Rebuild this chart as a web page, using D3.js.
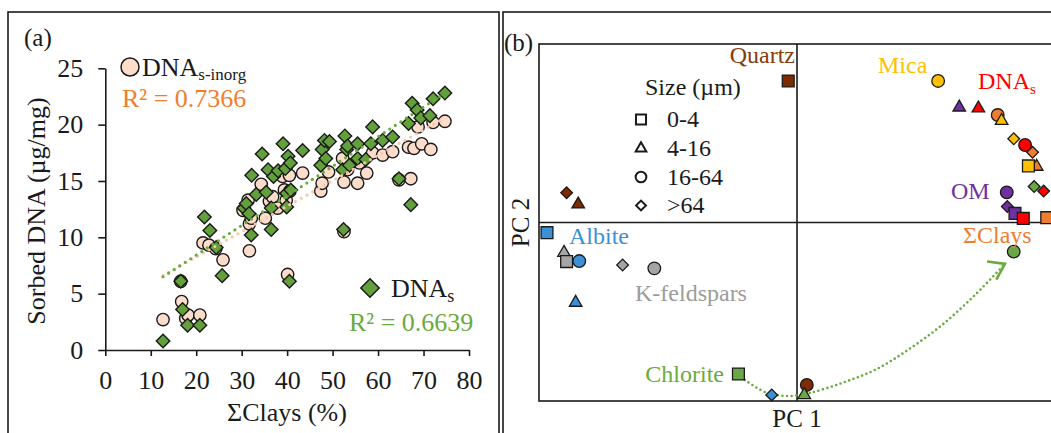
<!DOCTYPE html>
<html><head><meta charset="utf-8">
<script src="https://cdn.jsdelivr.net/npm/d3@7"></script>
<style>
html,body{margin:0;padding:0;background:#fff;}
svg{display:block;font-family:"Liberation Serif","Times New Roman",serif;}
</style></head><body>
<svg id="fig" width="1051" height="433"></svg>
<script>
// ---------- Panel (a): sorbed DNA against total clay content ----------
const clayInorg = [12.7,16.6,16.8,17.7,18.2,20.8,21.5,22.8,24.3,25.9,30.3,31.4,31.7,31.7,32.1,34.3,35.2,36.1,36.8,37.9,
  39.0,39.4,39.8,40.1,40.5,40.6,43.4,47.4,47.7,49.1,52.2,52.5,52.5,53.3,55.5,55.9,57.5,58.8,61.0,63.2,
  64.6,66.7,67.2,67.9,68.8,69.6,71.6,72.1,74.7];
const dnaInorg = [2.7,6.1,4.3,2.8,3.1,3.1,9.5,9.3,9.0,8.0,12.4,13.3,8.8,11.2,11.7,14.7,11.7,13.2,13.6,12.6,
  15.4,14.2,13.3,6.7,15.5,14.1,15.7,14.1,14.8,15.8,17.0,14.9,10.5,16.0,14.8,16.6,15.7,17.5,17.3,17.6,
  15.1,18.0,15.2,17.9,19.8,18.3,17.8,20.2,20.3];
const clayS = [12.7,16.6,17.0,18.1,20.8,21.8,23.0,24.4,25.7,30.5,31.0,31.6,32.1,32.2,33.2,34.5,35.4,35.8,36.5,36.5,
  37.0,38.0,39.1,39.6,39.9,39.9,40.2,40.5,40.7,40.8,43.4,47.4,47.7,48.2,48.5,49.3,52.2,52.4,52.7,53.1,
  53.3,53.7,55.5,55.5,57.3,58.4,58.8,61.0,63.2,64.6,66.7,67.2,67.5,68.6,69.4,71.4,72.1,74.7];
const dnaS = [0.8,6.1,3.6,2.2,2.2,11.8,10.6,9.1,6.6,12.6,13.0,12.1,10.2,15.5,13.8,17.4,14.0,16.0,12.6,10.7,
  15.4,15.9,18.3,16.1,12.7,13.9,17.2,6.1,16.6,14.2,17.7,16.4,17.8,18.6,17.0,18.5,16.0,10.7,19.0,17.8,
  18.1,16.4,18.3,17.0,16.9,18.3,19.8,18.6,18.9,15.2,20.1,12.9,21.9,21.3,20.6,20.8,22.3,22.8];
// linear trend lines (end points) and their fit statistics
const trendInorgX = [12.7, 74.7], trendInorgY = [6.6, 20.6];
const trendSX = [12.7, 74.7], trendSY = [6.5, 22.8];
const r2Inorg = "0.7366", r2S = "0.6639";
const xTicksA = [0,10,20,30,40,50,60,70,80];
const yTicksA = [0,5,10,15,20,25];

// ---------- Panel (b): PCA of minerals by size fraction ----------
const pcaGroup = ["Quartz","Quartz","Quartz","Quartz",
  "K-feldspars","K-feldspars","K-feldspars","K-feldspars",
  "Albite","Albite","Albite","Albite",
  "ΣClays","ΣClays","ΣClays","ΣClays",
  "OM","OM","OM","OM",
  "Chlorite","Chlorite","Chlorite","Chlorite",
  "Mica","Mica","Mica","Mica",
  "DNAs","DNAs","DNAs","DNAs"];
const pcaSize = ["0-4","4-16",">64","16-64",
  "4-16","0-4",">64","16-64",
  "0-4","16-64","4-16",">64",
  "16-64",">64","4-16","0-4",
  "4-16","16-64",">64","0-4",
  "0-4","4-16","16-64",">64",
  "16-64","4-16",">64","0-4",
  "4-16","16-64",">64","0-4"];
const pc1 = [-0.034,-0.848,-0.893,0.038,
  -0.903,-0.893,-0.676,-0.553,
  -0.969,-0.844,-0.858,-0.098,
  0.778,0.913,0.929,0.968,
  0.629,0.813,0.815,0.845,
  -0.227,0.028,0.840,0.919,
  0.547,0.793,0.840,0.897,
  0.703,0.884,0.956,0.877];
const pc2 = [0.793,0.102,0.167,-0.910,
  -0.169,-0.219,-0.238,-0.257,
  -0.057,-0.216,-0.449,-0.966,
  0.602,0.393,0.313,0.027,
  0.645,0.169,0.089,0.051,
  -0.849,-0.966,-0.163,0.201,
  0.793,0.570,0.469,0.317,
  0.640,0.434,0.176,0.023];
const sizeClasses = ["0-4","4-16","16-64",">64"];
const groupColors = {"Quartz":"#7B2C00","K-feldspars":"#A5A5A5","Albite":"#3D8FD6","ΣClays":"#ED7D31",
  "OM":"#7030A0","Chlorite":"#6AA746","Mica":"#FFC000","DNAs":"#FF0000"};
// path of chlorite from fine to coarse fractions (PC1, PC2)
const chloritePathPC1 = [-0.202,-0.116,-0.027,0.050,0.174,0.302,0.430,0.562,0.690,0.806];
const chloritePathPC2 = [-0.882,-0.955,-0.972,-0.955,-0.899,-0.826,-0.714,-0.574,-0.406,-0.232];

const svg = d3.select("#fig");
const ink = "#1a1a1a";

// outer frames of the two panels
svg.append("rect").attr("x",8).attr("y",12).attr("width",491).attr("height",440)
  .attr("fill","none").attr("stroke",ink).attr("stroke-width",1.6);
svg.append("rect").attr("x",503).attr("y",12).attr("width",560).attr("height",440)
  .attr("fill","none").attr("stroke",ink).attr("stroke-width",1.6);

// ===== Panel (a) =====
const xa = d3.scaleLinear().domain([0,80]).range([105.3,469]);
const ya = d3.scaleLinear().domain([0,25]).range([350,68.3]);
const ga = svg.append("g");

const xAxisA = ga.append("g").attr("transform",`translate(0,${ya(0)})`)
  .call(d3.axisBottom(xa).tickValues(xTicksA).tickSize(6).tickSizeOuter(0).tickPadding(15));
const yAxisA = ga.append("g").attr("transform",`translate(${xa(0)},0)`)
  .call(d3.axisLeft(ya).tickValues(yTicksA).tickSize(7).tickSizeOuter(0).tickPadding(15));
[xAxisA,yAxisA].forEach(a=>{
  a.selectAll("path,line").attr("stroke",ink).attr("stroke-width",1.6);
  a.selectAll("text").attr("fill",ink).style("font-size","26px").style("font-family","Liberation Serif");
});

ga.append("text").attr("x",287).attr("y",421).attr("text-anchor","middle")
  .style("font-size","26px").attr("fill",ink).text("ΣClays (%)");
ga.append("text").attr("transform","translate(45,211) rotate(-90)").attr("text-anchor","middle")
  .style("font-size","26px").attr("fill",ink).text("Sorbed DNA (µg/mg)");
ga.append("text").attr("x",24).attr("y",46).style("font-size","25px").attr("fill",ink).text("(a)");

const peach = "#FCDDCB", grn = "#61A03A";
ga.append("g").selectAll("circle").data(clayInorg).join("circle")
  .attr("cx",(d,i)=>xa(d)).attr("cy",(d,i)=>ya(dnaInorg[i])).attr("r",6.2)
  .attr("fill",peach).attr("stroke",ink).attr("stroke-width",1.4);
const diamond = d3.symbol().type(d3.symbolSquare).size(92);
ga.append("g").selectAll("path").data(clayS).join("path")
  .attr("d",diamond)
  .attr("transform",(d,i)=>`translate(${xa(d)},${ya(dnaS[i])}) rotate(45)`)
  .attr("fill",grn).attr("stroke",ink).attr("stroke-width",1.4);

const trend = (xs,ys)=>d3.line().x(d=>xa(d[0])).y(d=>ya(d[1]))(xs.map((x,i)=>[x,ys[i]]));
ga.append("path").attr("d",trend(trendInorgX,trendInorgY)).attr("fill","none")
  .attr("stroke","#F9C7A8").attr("stroke-width",3.2).attr("stroke-linecap","round").attr("stroke-dasharray","0 6.6");
ga.append("path").attr("d",trend(trendSX,trendSY)).attr("fill","none")
  .attr("stroke","#6AAA3E").attr("stroke-width",3.2).attr("stroke-linecap","round").attr("stroke-dasharray","0 6.6");

// legends for panel (a)
ga.append("circle").attr("cx",130).attr("cy",67).attr("r",9).attr("fill",peach).attr("stroke",ink).attr("stroke-width",1.5);
const la = ga.append("text").attr("x",142).attr("y",76).style("font-size","26px").attr("fill",ink);
la.append("tspan").text("DNA");
la.append("tspan").attr("dy",4).style("font-size","17px").text("s-inorg");
ga.append("text").attr("x",122).attr("y",107).style("font-size","26px").attr("fill","#F07D2E").text("R² = " + r2Inorg);

ga.append("path").attr("d",d3.symbol().type(d3.symbolSquare).size(170))
  .attr("transform","translate(370,288) rotate(45)").attr("fill",grn).attr("stroke",ink).attr("stroke-width",1.5);
const lb = ga.append("text").attr("x",391).attr("y",297).style("font-size","26px").attr("fill",ink);
lb.append("tspan").text("DNA");
lb.append("tspan").attr("dy",5).style("font-size","18px").text("s");
ga.append("text").attr("x",349).attr("y",331).style("font-size","26px").attr("fill","#6AAA3E").text("R² = " + r2S);

// ===== Panel (b) =====
const xb = d3.scaleLinear().domain([-1,1]).range([539,1055]);
const yb = d3.scaleLinear().domain([-1,1]).range([401,44]);
const gb = svg.append("g");

gb.append("rect").attr("x",xb(-1)).attr("y",yb(1)).attr("width",xb(1)-xb(-1)+10).attr("height",yb(-1)-yb(1))
  .attr("fill","none").attr("stroke",ink).attr("stroke-width",1.6);
gb.append("line").attr("x1",xb(0)).attr("x2",xb(0)).attr("y1",yb(1)).attr("y2",yb(-1)).attr("stroke",ink).attr("stroke-width",1.6);
gb.append("line").attr("x1",xb(-1)).attr("x2",xb(1)+10).attr("y1",yb(0)).attr("y2",yb(0)).attr("stroke",ink).attr("stroke-width",1.6);

gb.append("text").attr("x",xb(0)).attr("y",427).attr("text-anchor","middle").style("font-size","25px").attr("fill",ink).text("PC 1");
gb.append("text").attr("transform",`translate(529,${yb(0)}) rotate(-90)`).attr("text-anchor","middle")
  .style("font-size","25px").attr("fill",ink).text("PC 2");
gb.append("text").attr("x",504).attr("y",51).style("font-size","25px").attr("fill",ink).text("(b)");

// symbol shapes by size fraction
function shapePath(size, scale){
  const k = scale || 1;
  if (size === "0-4") return d3.symbol().type(d3.symbolSquare).size(140*k*k)();
  if (size === "4-16") return d3.symbol().type(d3.symbolTriangle).size(68*k*k)();
  if (size === "16-64") return d3.symbol().type(d3.symbolCircle).size(125*k*k)();
  return d3.symbol().type(d3.symbolSquare).size(68*k*k)();
}
const rot = s => s === ">64" ? " rotate(45)" : "";

// chlorite trajectory
const pathPts = chloritePathPC1.map((v,i)=>[xb(v), yb(chloritePathPC2[i])]);
gb.append("path").attr("d",d3.line().curve(d3.curveCatmullRom)(pathPts)).attr("fill","none")
  .attr("stroke","#6AAA3E").attr("stroke-width",2.6).attr("stroke-linecap","round").attr("stroke-dasharray","0 4.6");
{
  const tip = pathPts[pathPts.length-1], prev = pathPts[pathPts.length-3];
  const ang = Math.atan2(prev[1]-tip[1], prev[0]-tip[0]) + 0.3;
  const L = 18, spread = 0.6;
  const a1 = [tip[0]+L*Math.cos(ang-spread), tip[1]+L*Math.sin(ang-spread)];
  const a2 = [tip[0]+L*Math.cos(ang+spread), tip[1]+L*Math.sin(ang+spread)];
  gb.append("path").attr("d",d3.line()([a1,tip,a2])).attr("fill","none")
    .attr("stroke","#6AAA3E").attr("stroke-width",2.6).attr("stroke-linejoin","miter");
}

gb.append("g").selectAll("path").data(pcaGroup).join("path")
  .attr("d",(d,i)=>shapePath(pcaSize[i]))
  .attr("transform",(d,i)=>`translate(${xb(pc1[i])},${yb(pc2[i])})${rot(pcaSize[i])}`)
  .attr("fill",d=>groupColors[d]).attr("stroke",ink).attr("stroke-width",1.3);

// size legend
gb.append("text").attr("x",645).attr("y",95).style("font-size","24px").attr("fill",ink).text("Size (µm)");
const legY = [119.5,148.5,177,205.5];
sizeClasses.forEach((s,i)=>{
  gb.append("path").attr("d",shapePath(s,0.85))
    .attr("transform",`translate(641,${legY[i]})${rot(s)}`)
    .attr("fill","#fff").attr("stroke",ink).attr("stroke-width",2);
  gb.append("text").attr("x",667).attr("y",legY[i]+7.5).style("font-size","24px").attr("fill",ink).text(s);
});

// group labels
const lab = (x,y,txt,col,anchor)=>gb.append("text").attr("x",x).attr("y",y).attr("text-anchor",anchor||"start")
  .style("font-size","24px").attr("fill",col).text(txt);
lab(795,63,"Quartz","#843C0C","end");
lab(878,73,"Mica","#FFC000");
const dl = gb.append("text").attr("x",978).attr("y",89).style("font-size","24px").attr("fill","#FF0000");
dl.append("tspan").text("DNA");
dl.append("tspan").attr("dy",5).style("font-size","15px").text("s");
lab(951,199,"OM","#7030A0");
lab(963,243,"ΣClays","#ED7D31");
lab(569,244,"Albite","#3D8FD6");
lab(635,301,"K-feldspars","#9C9C9C");
lab(724,382,"Chlorite","#6AAA3E","end");
</script>
</body></html>
